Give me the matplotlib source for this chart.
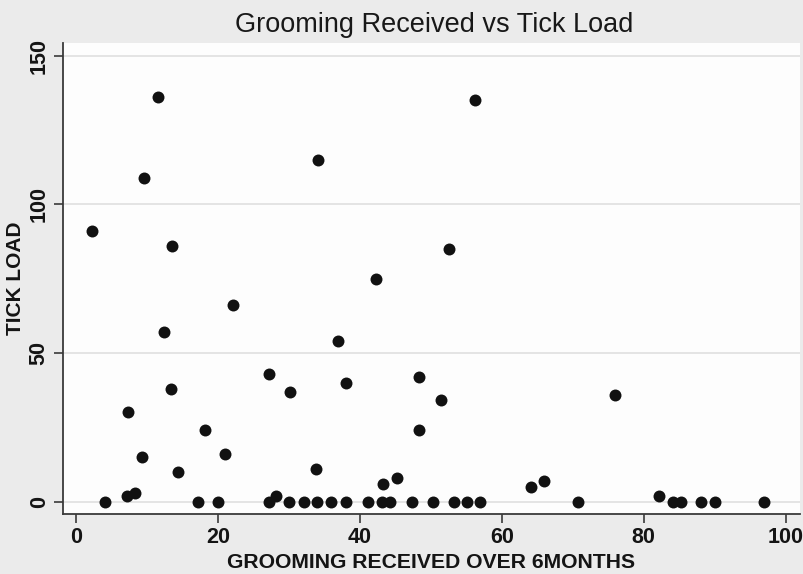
import matplotlib
matplotlib.use("Agg")
import matplotlib.pyplot as plt

grooming = [2.3, 7.2, 8.4, 7.3, 9.3, 9.6, 11.6, 12.4, 13.4, 13.6, 14.4, 18.2, 21.0, 22.2,
            27.2, 28.2, 30.2, 33.9, 34.1, 37.0, 38.0, 42.3, 43.2, 45.3, 48.3, 48.3, 51.4,
            52.5, 56.2, 64.1, 66.0, 76.0, 82.1,
            4.1, 17.2, 20.0, 27.2, 30.1, 32.1, 34.0, 35.9, 38.0, 41.1, 43.1, 44.3, 47.3,
            50.3, 53.2, 55.1, 57.0, 70.8, 84.1, 85.2, 88.1, 90.0, 96.9]
ticks = [91, 2, 3, 30, 15, 109, 136, 57, 38, 86, 10, 24, 16, 66,
         43, 2, 37, 11, 115, 54, 40, 75, 6, 8, 42, 24, 34,
         85, 135, 5, 7, 36, 2,
         0, 0, 0, 0, 0, 0, 0, 0, 0, 0, 0, 0, 0,
         0, 0, 0, 0, 0, 0, 0, 0, 0, 0]
xticks = [0, 20, 40, 60, 80, 100]
yticks = [0, 50, 100, 150]

fam = ['Liberation Sans', 'DejaVu Sans']
W, H = 804, 574

fig = plt.figure(figsize=(W/100, H/100), dpi=100, facecolor='#ebebeb')
ax = fig.add_axes([63/W, 1-514/H, (800-63)/W, (514-43)/H])
ax.set_facecolor('#fdfdfd')

ax.scatter(grooming, ticks, s=74, color='#111111', zorder=3, linewidths=0)

ax.set_xlim(-1.8, 102)
ax.set_ylim(-4.2, 154.3)
ax.set_xticks(xticks)
ax.set_yticks(yticks)
ax.yaxis.grid(True, color='#e0e0e0', linewidth=1.2)
ax.set_axisbelow(True)

for s in ['top', 'right']:
    ax.spines[s].set_visible(False)
for s in ['left', 'bottom']:
    ax.spines[s].set_color('#3a3a3a')
    ax.spines[s].set_linewidth(1.3)

ax.tick_params(axis='both', direction='out', length=6.5, width=1.2, color='#3a3a3a',
               labelsize=15.5, labelcolor='#141414', pad=3)
for lbl in ax.get_xticklabels():
    lbl.set_family(fam)
    lbl.set_weight('bold')
for lbl in ax.get_yticklabels():
    lbl.set_family(fam)
    lbl.set_weight('bold')
    lbl.set_rotation(90)
    lbl.set_va('center')

fig.text(431/W, 1-568/H, 'GROOMING RECEIVED OVER 6MONTHS', ha='center', va='baseline',
         family=fam, fontsize=15.2, fontweight='bold', color='#141414')
fig.text(16/W, 1-278/H, 'TICK LOAD', ha='center', va='center', rotation=90,
         family=fam, fontsize=15, fontweight='bold', color='#141414')

fig.text(434/W, 1-32/H, 'Grooming Received vs Tick Load', ha='center', va='baseline',
         family=fam, fontsize=19.5, color='#181818')

fig.savefig('out.png', dpi=100, facecolor=fig.get_facecolor())
